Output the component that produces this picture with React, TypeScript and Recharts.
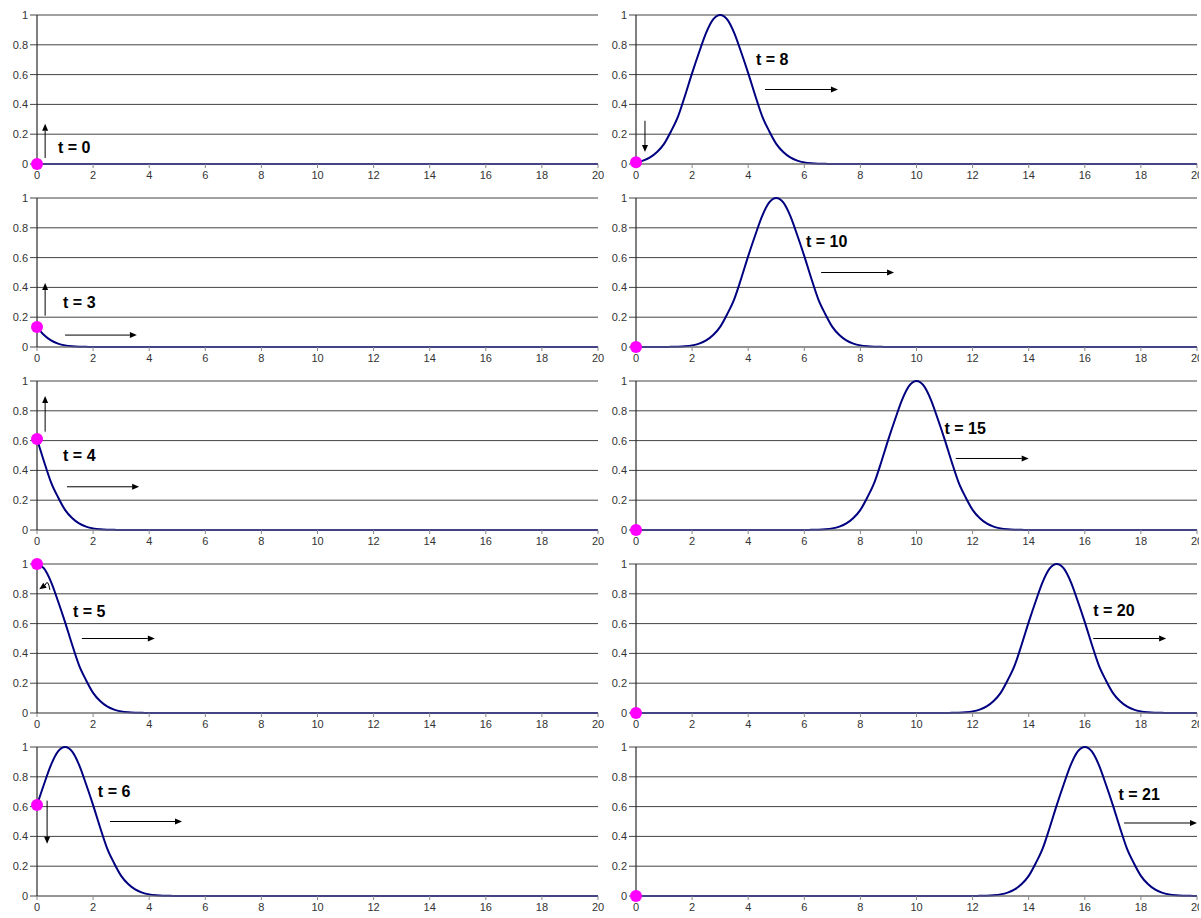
import React from 'react';
import { LineChart, Line, XAxis, YAxis, CartesianGrid, ReferenceDot, ReferenceLine } from 'recharts';

// pulse shape (offset from the peak -> height)
const PULSE_OFFSET = [
  -4, -3.75, -3.5, -3.25, -3, -2.75, -2.5, -2.25, -2, -1.75, -1.5, -1.25, -1, -0.75, -0.5, -0.25,
  0, 0.25, 0.5, 0.75, 1, 1.25, 1.5, 1.75, 2, 2.25, 2.5, 2.75, 3, 3.25, 3.5, 3.75, 4,
];
const PULSE_VALUE = [
  0, 0.001, 0.002, 0.005, 0.011, 0.023, 0.044, 0.08, 0.135, 0.22, 0.32, 0.46, 0.61, 0.75, 0.88, 0.97,
  1, 0.97, 0.88, 0.75, 0.61, 0.46, 0.32, 0.22, 0.135, 0.08, 0.044, 0.023, 0.011, 0.005, 0.002, 0.001, 0,
];

const LEFT_TIMES = [0, 3, 4, 5, 6];
const LEFT_PEAKS = [-5, -2, -1, 0, 1];
const RIGHT_TIMES = [8, 10, 15, 20, 21];
const RIGHT_PEAKS = [3, 5, 10, 15, 16];

const X_TICKS = [0, 2, 4, 6, 8, 10, 12, 14, 16, 18, 20];
const Y_TICKS = [0, 0.2, 0.4, 0.6, 0.8, 1];

// annotation placement in data units
type Note = { label: [number, number]; up?: [number, number, number, number]; curl?: boolean; right?: [number, number, number] };
const LEFT_NOTES: Note[] = [
  { label: [0.75, 0.11], up: [0.29, 0.04, 0.29, 0.27] },
  { label: [0.93, 0.3], up: [0.29, 0.21, 0.29, 0.43], right: [1.0, 3.56, 0.08] },
  { label: [0.93, 0.5], up: [0.29, 0.66, 0.29, 0.9], right: [1.07, 3.64, 0.29] },
  { label: [1.28, 0.68], up: [0.46, 0.88, 0.08, 0.83], curl: true, right: [1.6, 4.2, 0.5] },
  { label: [2.17, 0.7], up: [0.36, 0.64, 0.36, 0.35], right: [2.6, 5.17, 0.5] },
];
const RIGHT_NOTES: Note[] = [
  { label: [4.28, 0.7], up: [0.32, 0.29, 0.32, 0.08], right: [4.6, 7.2, 0.5] },
  { label: [6.06, 0.71], right: [6.6, 9.2, 0.5] },
  { label: [11.0, 0.68], right: [11.4, 14.0, 0.48] },
  { label: [16.3, 0.69], right: [16.3, 18.9, 0.5] },
  { label: [17.2, 0.68], right: [17.4, 20.0, 0.49] },
];

const pulseSeries = (peak: number) => {
  const pts: { x: number; y: number }[] = [];
  PULSE_OFFSET.forEach((o, i) => {
    const x = peak + o;
    if (x >= 0 && x <= 20) pts.push({ x, y: PULSE_VALUE[i] });
  });
  if (!pts.length || pts[0].x > 0) pts.unshift({ x: 0, y: 0 });
  if (pts[pts.length - 1].x < 20) pts.push({ x: 20, y: 0 });
  return pts;
};

const arrowShape = (curl?: boolean) => (p: any) => {
  const { x1, y1, x2, y2 } = p;
  const ang = Math.atan2(y2 - y1, x2 - x1);
  const len = 7;
  const w = 3;
  const bx = x2 - len * Math.cos(ang);
  const by = y2 - len * Math.sin(ang);
  const nx = -Math.sin(ang) * w;
  const ny = Math.cos(ang) * w;
  const d = curl
    ? `M${x1},${y1 + 8}Q${x1 - 2},${y1 - 4} ${bx},${by}`
    : `M${x1},${y1}L${bx},${by}`;
  return (
    <g>
      <path d={d} stroke="#000" strokeWidth={1} fill="none" />
      <polygon points={`${x2},${y2} ${bx + nx},${by + ny} ${bx - nx},${by - ny}`} fill="#000" />
    </g>
  );
};

const Panel = ({ t, peak, note, width, right }: { t: number; peak: number; note: Note; width: number; right: number }) => {
  const data = pulseSeries(peak);
  const tick = { fill: '#333', fontSize: 11, fontFamily: 'Liberation Sans, Arial, sans-serif' };
  return (
    <LineChart width={width} height={183} data={data} margin={{ top: 15, right, bottom: 0, left: 0 }}>
      <CartesianGrid vertical={false} stroke="#444" />
      <XAxis
        dataKey="x"
        type="number"
        domain={[0, 20]}
        ticks={X_TICKS}
        tick={tick}
        tickSize={4}
        tickMargin={3}
        height={19}
        stroke="#888"
        interval={0}
      />
      <YAxis
        type="number"
        domain={[0, 1]}
        ticks={Y_TICKS}
        tick={tick}
        tickSize={7}
        tickMargin={2}
        width={37}
        stroke="#000"
        tickLine={{ stroke: '#444' }}
        interval={0}
      />
      <Line type="monotone" dataKey="y" stroke="#000080" strokeWidth={2} dot={false} isAnimationActive={false} />
      {note.up && (
        <ReferenceLine
          segment={[{ x: note.up[0], y: note.up[1] }, { x: note.up[2], y: note.up[3] }]}
          ifOverflow="visible"
          shape={arrowShape(note.curl)}
        />
      )}
      {note.right && (
        <ReferenceLine
          segment={[{ x: note.right[0], y: note.right[2] }, { x: note.right[1], y: note.right[2] }]}
          ifOverflow="visible"
          shape={arrowShape()}
        />
      )}
      <ReferenceDot
        x={note.label[0]}
        y={note.label[1]}
        r={1}
        ifOverflow="visible"
        shape={(p: any) => (
          <text
            x={p.cx}
            y={p.cy}
            dominantBaseline="central"
            fontFamily="Liberation Sans, Arial, sans-serif"
            fontWeight="bold"
            fontSize={16}
            fill="#000"
          >
            {`t = ${t}`}
          </text>
        )}
      />
      <ReferenceDot x={0} y={data[0].y} r={6} fill="#ff00ff" stroke="none" ifOverflow="visible" />
    </LineChart>
  );
};

export default function App() {
  return (
    <div style={{ position: 'absolute', left: 0, top: 0, width: 1201, height: 918, background: '#fff', overflow: 'hidden' }}>
      {RIGHT_TIMES.map((t, i) => (
        <div key={'r' + t} style={{ position: 'absolute', left: 599, top: i * 183 }}>
          <Panel t={t} peak={RIGHT_PEAKS[i]} note={RIGHT_NOTES[i]} width={600} right={2} />
        </div>
      ))}
      {LEFT_TIMES.map((t, i) => (
        <div key={'l' + t} style={{ position: 'absolute', left: 0, top: i * 183 }}>
          <Panel t={t} peak={LEFT_PEAKS[i]} note={LEFT_NOTES[i]} width={610} right={12} />
        </div>
      ))}
    </div>
  );
}
